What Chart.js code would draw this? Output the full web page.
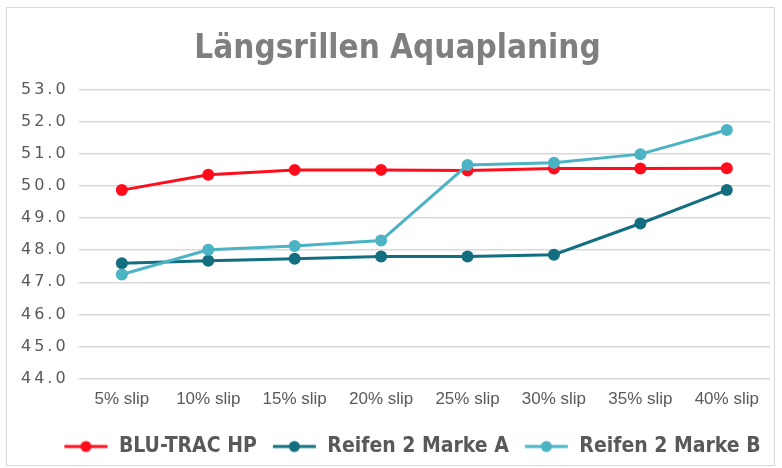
<!DOCTYPE html>
<html>
<head>
<meta charset="utf-8">
<script src="https://cdn.jsdelivr.net/npm/chart.js@4/dist/chart.umd.min.js"></script>
<style>
  html, body { margin: 0; padding: 0; background: #ffffff; }
  #box {
    position: absolute;
    left: 6px;
    top: 7px;
    width: 769px;
    height: 459px;
    border: 1px solid #d9d9d9;
    box-sizing: border-box;
  }
  #box canvas { position: absolute; left: 0; top: 0; }
</style>
</head>
<body>
<div id="box"><canvas id="chart" width="769" height="459"></canvas></div>
<script>
const categories = ["5% slip", "10% slip", "15% slip", "20% slip", "25% slip", "30% slip", "35% slip", "40% slip"];
const bluTrac = [49.87, 50.35, 50.5, 50.5, 50.48, 50.54, 50.54, 50.55];
const marke_a = [47.59, 47.67, 47.73, 47.8, 47.8, 47.86, 48.83, 49.87];
const marke_b = [47.24, 48.01, 48.13, 48.3, 50.65, 50.72, 50.99, 51.74];
const seriesNames = ["BLU-TRAC HP", "Reifen 2 Marke A", "Reifen 2 Marke B"];
const colours = ["#ff0d1d", "#136e80", "#4bb3c3"];

const textGrey = "#595959";
const condensed = "'Liberation Sans Narrow', 'DejaVu Sans Condensed', sans-serif";

// legend marker: short line with a dot in the middle, like Excel.
// a few transparent pixels on the left give more room between the items
function legendMarker(colour) {
  const c = document.createElement("canvas");
  c.width = 48;
  c.height = 14;
  const g = c.getContext("2d");
  g.strokeStyle = colour;
  g.lineWidth = 3;
  g.beginPath();
  g.moveTo(4, 7);
  g.lineTo(47, 7);
  g.stroke();
  g.fillStyle = colour;
  g.beginPath();
  g.arc(25.5, 7, 5.5, 0, Math.PI * 2);
  g.fill();
  return c;
}

// the y labels in the reference are spaced wide
const wideYLabels = {
  id: "wideYLabels",
  beforeDraw(chart) {
    const y = chart.scales.y;
    if (!y || y._wrapped) return;
    const orig = y.drawLabels;
    y.drawLabels = function (area) {
      const ctx = this.ctx;
      ctx.save();
      ctx.letterSpacing = "3px";
      orig.call(this, area);
      ctx.restore();
    };
    y._wrapped = true;
  },
  // legend sits a bit right of centre in the reference
  afterUpdate(chart) {
    if (chart.legend) {
      chart.legend.left += 13;
      chart.legend.right += 13;
    }
  },
};

const allData = [bluTrac, marke_a, marke_b];
const datasets = [];
for (let i = 0; i < allData.length; i++) {
  datasets.push({
    label: seriesNames[i],
    data: allData[i],
    borderColor: colours[i],
    backgroundColor: colours[i],
    borderWidth: 3,
    pointRadius: 6,
    pointHoverRadius: 6,
    pointBorderWidth: 0,
    pointStyle: "circle",
    tension: 0,
    fill: false,
    order: 3 - i,
  });
}

const ctx = document.getElementById("chart");
new Chart(ctx, {
  type: "line",
  data: { labels: categories, datasets: datasets },
  plugins: [wideYLabels],
  options: {
    responsive: false,
    animation: false,
    events: [],
    layout: { padding: { left: 14, right: 2, top: 12, bottom: 0 } },
    plugins: {
      title: {
        display: true,
        text: "Längsrillen Aquaplaning",
        color: "#7f7f7f",
        font: { family: condensed, size: 33, weight: "bold" },
        padding: { top: 10, bottom: 20 },
      },
      legend: {
        position: "bottom",
        labels: {
          usePointStyle: true,
          pointStyleWidth: 48,
          boxHeight: 14,
          padding: 12,
          color: textGrey,
          font: { family: condensed, size: 21, weight: "bold" },
          generateLabels(chart) {
            return chart.data.datasets.map((ds, i) => ({
              text: ds.label,
              pointStyle: legendMarker(ds.borderColor),
              fillStyle: ds.borderColor,
              strokeStyle: ds.borderColor,
              lineWidth: 0,
              fontColor: textGrey,
              datasetIndex: i,
              hidden: false,
            }));
          },
        },
      },
      tooltip: { enabled: false },
    },
    scales: {
      x: {
        offset: true,
        grid: { display: false },
        border: { display: false },
        afterFit: (scale) => {
          scale.height += 11;
        },
        ticks: {
          color: textGrey,
          padding: 3,
          maxRotation: 0,
          autoSkip: false,
          font: { family: "'Liberation Sans', sans-serif", size: 17 },
        },
      },
      y: {
        min: 44,
        max: 53,
        grid: { color: "#d9d9d9", lineWidth: 1.5, drawTicks: false },
        border: { display: false },
        ticks: {
          stepSize: 1,
          padding: 11,
          crossAlign: "far",
          color: textGrey,
          font: { family: "'DejaVu Sans', sans-serif", size: 16 },
          callback: (v) => Number(v).toFixed(1),
        },
      },
    },
  },
});
</script>
</body>
</html>
